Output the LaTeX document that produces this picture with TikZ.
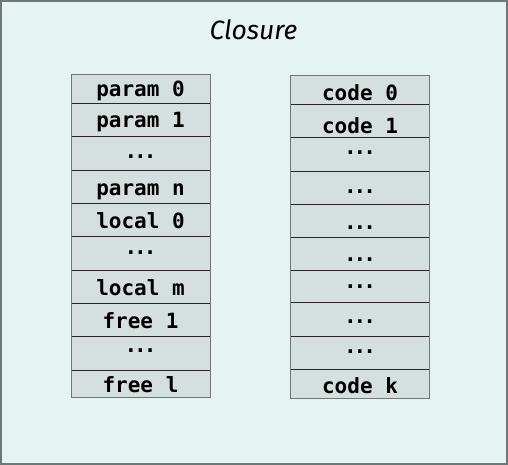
\documentclass[tikz,border=0pt]{standalone}
\usepackage{fontspec}
\setmainfont{Fira Sans}
\newfontfamily\cellmono{DejaVu Sans Mono}[Scale=1]
\definecolor{bgcol}{HTML}{E6F3F3}
\definecolor{cellcol}{HTML}{D6DFE0}
\definecolor{framecol}{HTML}{6E7676}
\begin{document}
\begin{tikzpicture}[x=1pt,y=-1pt,
  cell/.style={draw=black!85, line width=0.8pt, fill=cellcol, minimum width=139pt,
    inner sep=0pt, outer sep=0pt, text height=19pt, text depth=2pt,
    font=\cellmono\bfseries\fontsize{21}{24}\selectfont, anchor=north},
  title/.style={font=\itshape\fontsize{26.5}{30}\selectfont}]
\useasboundingbox (0,0) rectangle (508,465);
\draw[framecol, line width=1.6pt, fill=bgcol] (0.8,0.8) rectangle (507.2,464.2);
\node[title] (t) at (253.5,30) {Closure};
\newcommand{\dotsx}[1]{\raisebox{#1pt}{.\kern-3pt.\kern-3pt.}}
% left column
\node[cell, minimum height=29pt] (p0) at (140.5,74) {param 0};
\node[cell, minimum height=33pt] (p1) at (p0.south) {param 1};
\node[cell, minimum height=34pt] (pd) at (p1.south) {\dotsx{3.3}};
\node[cell, minimum height=33pt] (pn) at (pd.south) {param n};
\node[cell, minimum height=33pt] (l0) at (pn.south) {local 0};
\node[cell, minimum height=34pt] (ld) at (l0.south) {\dotsx{6.7}};
\node[cell, minimum height=33pt] (lm) at (ld.south) {local m};
\node[cell, minimum height=33pt] (f1) at (lm.south) {free 1};
\node[cell, minimum height=34pt] (fd) at (f1.south) {\dotsx{9.3}};
\node[cell, minimum height=27pt] (fl) at (fd.south) {free l};
\draw[framecol, line width=0.9pt] (p0.north west) rectangle (fl.south east);
% right column
\node[cell, minimum height=29pt] (c0) at (360,75) {\raisebox{-2.5pt}{code 0}};
\node[cell, minimum height=33pt] (c1) at (c0.south) {\raisebox{-5pt}{code 1}};
\node[cell, minimum height=34pt] (d1) at (c1.south) {\dotsx{8.3}};
\node[cell, minimum height=33pt] (d2) at (d1.south) {\dotsx{2.2}};
\node[cell, minimum height=33pt] (d3) at (d2.south) {\dotsx{-0.2}};
\node[cell, minimum height=33pt] (d4) at (d3.south) {\dotsx{0.5}};
\node[cell, minimum height=32pt] (d5) at (d4.south) {\dotsx{6.3}};
\node[cell, minimum height=34pt] (d6) at (d5.south) {\dotsx{3.7}};
\node[cell, minimum height=33pt] (d7) at (d6.south) {\dotsx{7.8}};
\node[cell, minimum height=29pt] (ck) at (d7.south) {\raisebox{-1.2pt}{code k}};
\draw[framecol, line width=0.9pt] (c0.north west) rectangle (ck.south east);
\end{tikzpicture}
\end{document}
